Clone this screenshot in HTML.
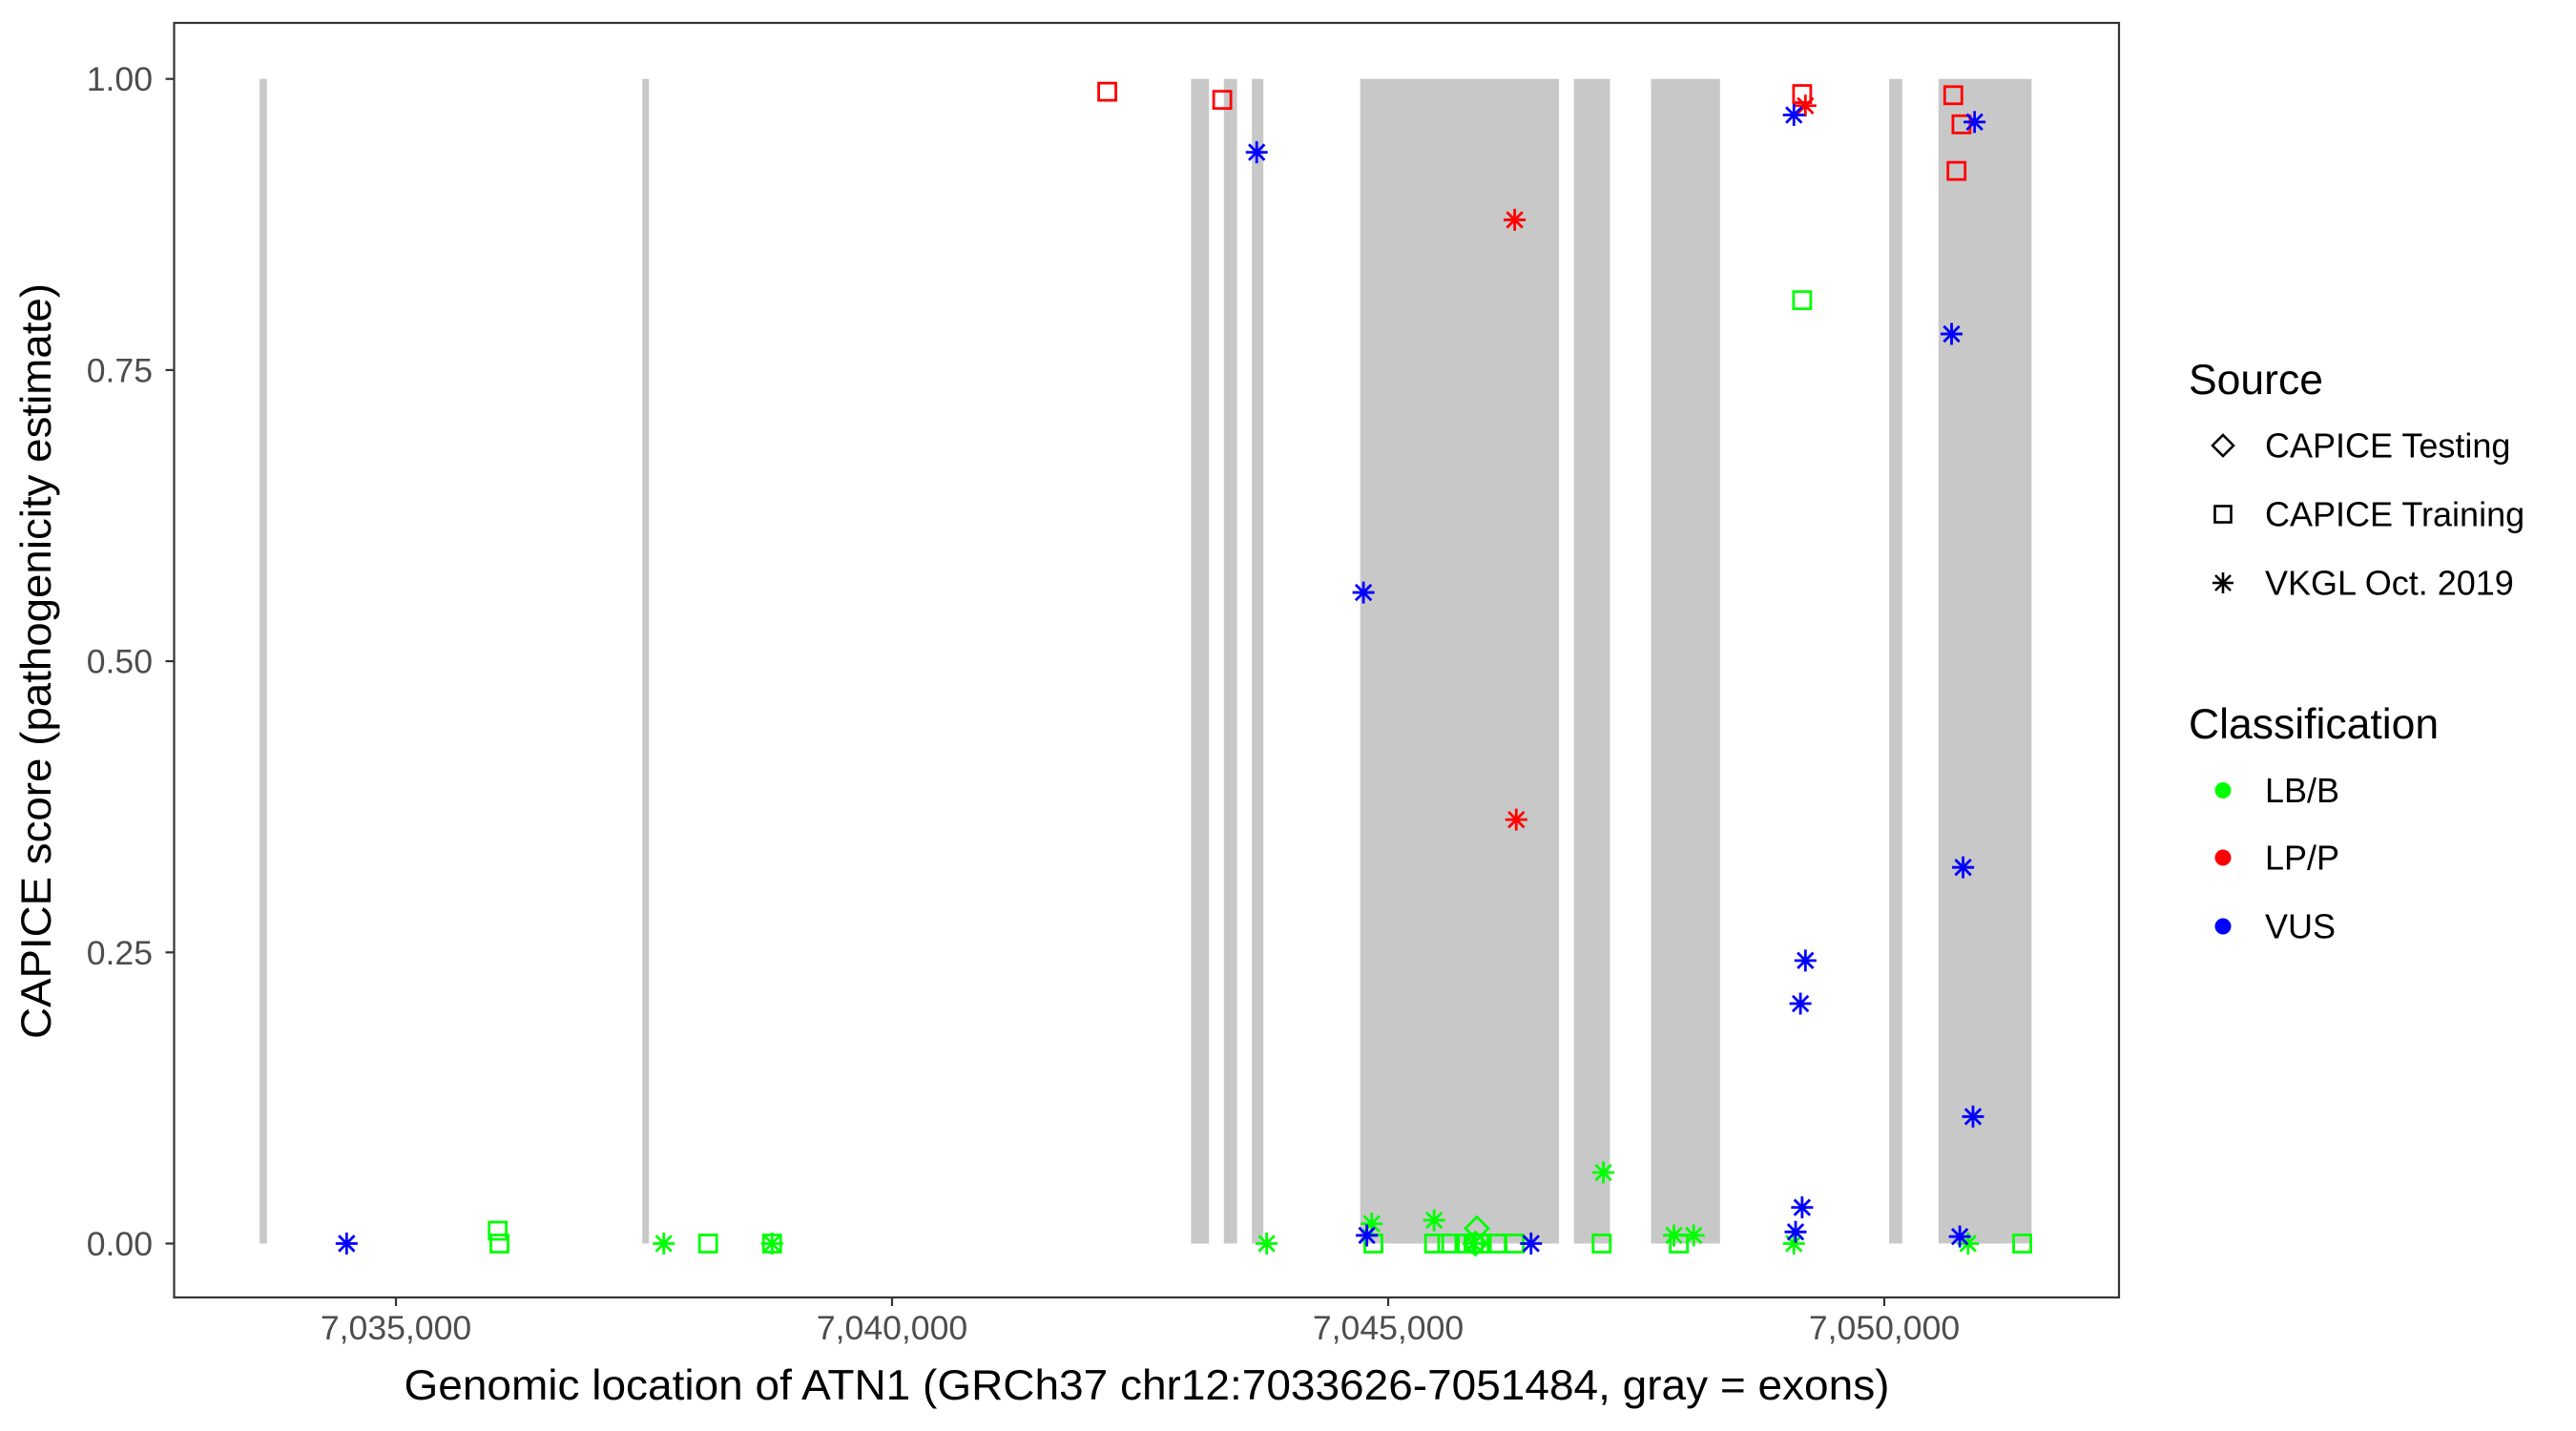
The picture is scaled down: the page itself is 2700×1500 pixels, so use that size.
<!DOCTYPE html>
<html><head><meta charset="utf-8">
<style>
html,body{margin:0;padding:0;background:#fff;}
svg{display:block;font-family:"Liberation Sans",Arial,sans-serif;}
</style></head>
<body>
<svg id="chart" width="2700" height="1500" viewBox="0 0 2700 1500" xmlns="http://www.w3.org/2000/svg">
<rect x="0" y="0" width="2700" height="1500" fill="#fff"/>
<g id="exons"></g>
<g id="points"></g>
<rect x="182.5" y="24" width="2038.5" height="1336" fill="none" stroke="#333" stroke-width="2.2"/>
<g id="yaxis"></g>
<g id="xaxis"></g>
<text x="1202" y="1467" font-size="44.5" text-anchor="middle" textLength="1557" lengthAdjust="spacingAndGlyphs">Genomic location of ATN1 (GRCh37 chr12:7033626-7051484, gray = exons)</text>
<text transform="translate(53,693) rotate(-90)" font-size="44.5" text-anchor="middle" textLength="792" lengthAdjust="spacingAndGlyphs">CAPICE score (pathogenicity estimate)</text>
<g id="legend">
  <text x="2294" y="413" font-size="44.5">Source</text>
  <g>
    <path d="M2330 456 L2341 467 L2330 478 L2319 467 Z" fill="none" stroke="#000" stroke-width="2.6"/>
    <text x="2374" y="479.5" font-size="36">CAPICE Testing</text>
  </g>
  <g>
    <rect x="2321.5" y="530.5" width="17" height="17" fill="none" stroke="#000" stroke-width="2.6"/>
    <text x="2374" y="551.5" font-size="36">CAPICE Training</text>
  </g>
  <g>
    <path d="M2319 611 H2341 M2330 600 V622 M2322 603 L2338 619 M2338 603 L2322 619" stroke="#000" stroke-width="2.6"/>
    <text x="2374" y="623.5" font-size="36">VKGL Oct. 2019</text>
  </g>
  <text x="2294" y="774" font-size="44.5">Classification</text>
  <g>
    <circle cx="2330" cy="828.5" r="8.5" fill="#00FF00"/>
    <text x="2374" y="841" font-size="36">LB/B</text>
  </g>
  <g>
    <circle cx="2330" cy="899" r="8.5" fill="#FF0000"/>
    <text x="2374" y="911.5" font-size="36">LP/P</text>
  </g>
  <g>
    <circle cx="2330" cy="971" r="8.5" fill="#0000FF"/>
    <text x="2374" y="983.5" font-size="36">VUS</text>
  </g>
</g>
</svg>
<script>
// ---- data ----
const exonStarts = [7033626, 7037483, 7043013, 7043344, 7043626, 7044718, 7046871, 7047649, 7050049, 7050546];
const exonEnds   = [7033700, 7037550, 7043195, 7043477, 7043742, 7046722, 7047235, 7048344, 7050182, 7051484];
const xTicks = [7035000, 7040000, 7045000, 7050000];
const xTickLabels = ["7,035,000", "7,040,000", "7,045,000", "7,050,000"];
const yTicks = [0, 0.25, 0.5, 0.75, 1];
const yTickLabels = ["0.00", "0.25", "0.50", "0.75", "1.00"];
// VKGL asterisks
const vusStarPos   = [7034503, 7043675, 7044751, 7044785, 7046440, 7049089, 7050910, 7050678, 7050794, 7049205, 7049155, 7050894, 7049172, 7049106, 7050761];
const vusStarScore = [0, 0.937, 0.559, 0.007, 0, 0.969, 0.963, 0.781, 0.323, 0.243, 0.206, 0.109, 0.031, 0.010, 0.006];
const lppStarPos   = [7046275, 7046291, 7049205];
const lppStarScore = [0.879, 0.364, 0.977];
const lbbStarPos   = [7037699, 7038791, 7043775, 7044834, 7045463, 7047169, 7047880, 7048079, 7049089, 7050844, 7045861];
const lbbStarScore = [0, 0, 0, 0.017, 0.020, 0.061, 0.007, 0.007, 0, 0, 0];
// CAPICE training squares
const lppSqPos   = [7042169, 7043328, 7049172, 7050695, 7050778, 7050728];
const lppSqScore = [0.989, 0.982, 0.987, 0.986, 0.961, 0.921];
const lbbSqPos   = [7036026, 7036043, 7038146, 7038791, 7044851, 7049172, 7045463, 7045596, 7045794, 7045861, 7045943, 7046093, 7046275, 7047152, 7047930, 7051390];
const lbbSqScore = [0.011, 0, 0, 0, 0, 0.810, 0, 0, 0, 0, 0, 0, 0, 0, 0, 0];
// CAPICE testing diamonds
const lbbDiaPos   = [7045894, 7045880];
const lbbDiaScore = [0.013, 0];

// ---- scales ----
const X0 = 415.0, XPER = 520.0 / 5000;
function xs(bp) { return X0 + (bp - 7035000) * XPER; }
function ys(v) { return 1303.5 - v * 1220.8; }
const NS = "http://www.w3.org/2000/svg";
function mk(tag, attrs, parent) {
  const e = document.createElementNS(NS, tag);
  for (const k in attrs) e.setAttribute(k, attrs[k]);
  parent.appendChild(e);
  return e;
}

// exons
const gEx = document.getElementById("exons");
exonStarts.forEach((s, i) => {
  const r = mk("rect", {x: xs(s), y: ys(1), width: Math.max(xs(exonEnds[i]) - xs(s), 6), height: ys(0) - ys(1), fill: "#C8C8C8"}, gEx);
  
  
});

// axes
const gY = document.getElementById("yaxis");
yTicks.forEach((v, i) => {
  const l = mk("line", {x1: 173.5, x2: 182.5, y1: ys(v), y2: ys(v), stroke: "#333", "stroke-width": 2.2}, gY);
  
  
  const t = mk("text", {x: 160, y: ys(v) + 12.5, "font-size": 35.6, fill: "#4D4D4D", "text-anchor": "end"}, gY);
  t.textContent = yTickLabels[i];
  
  
});
const gX = document.getElementById("xaxis");
xTicks.forEach((v, i) => {
  const l = mk("line", {x1: xs(v), x2: xs(v), y1: 1360, y2: 1369, stroke: "#333", "stroke-width": 2.2}, gX);
  
  
  const t = mk("text", {x: xs(v), y: 1404, "font-size": 35.6, fill: "#4D4D4D", "text-anchor": "middle"}, gX);
  t.textContent = xTickLabels[i];
  
  
});

// points
const gP = document.getElementById("points");
const C = {lbb: "#00FF00", lpp: "#FF0000", vus: "#0000FF"};
function star(x, y, col) {
  const r = 11.5, d = 8.2;
  return mk("path", {d: `M${x-r} ${y} H${x+r} M${x} ${y-r} V${y+r} M${x-d} ${y-d} L${x+d} ${y+d} M${x+d} ${y-d} L${x-d} ${y+d}`, stroke: col, "stroke-width": 2.8, fill: "none"}, gP);
}
function square(x, y, col) {
  return mk("rect", {x: x - 9, y: y - 9, width: 18, height: 18, stroke: col, "stroke-width": 2.8, fill: "none"}, gP);
}
function diamond(x, y, col) {
  return mk("path", {d: `M${x} ${y-12} L${x+12} ${y} L${x} ${y+12} L${x-12} ${y} Z`, stroke: col, "stroke-width": 2.8, fill: "none"}, gP);
}
lbbSqPos.forEach((p, i) => { const e = square(xs(p), ys(lbbSqScore[i]), C.lbb);
  
   });
lppSqPos.forEach((p, i) => { const e = square(xs(p), ys(lppSqScore[i]), C.lpp);
  
   });
lbbDiaPos.forEach((p, i) => { const e = diamond(xs(p), ys(lbbDiaScore[i]), C.lbb);
  
   });
lbbStarPos.forEach((p, i) => { const e = star(xs(p), ys(lbbStarScore[i]), C.lbb);
  
   });
lppStarPos.forEach((p, i) => { const e = star(xs(p), ys(lppStarScore[i]), C.lpp);
  
   });
vusStarPos.forEach((p, i) => { const e = star(xs(p), ys(vusStarScore[i]), C.vus);
  
   });
</script>
</body></html>
